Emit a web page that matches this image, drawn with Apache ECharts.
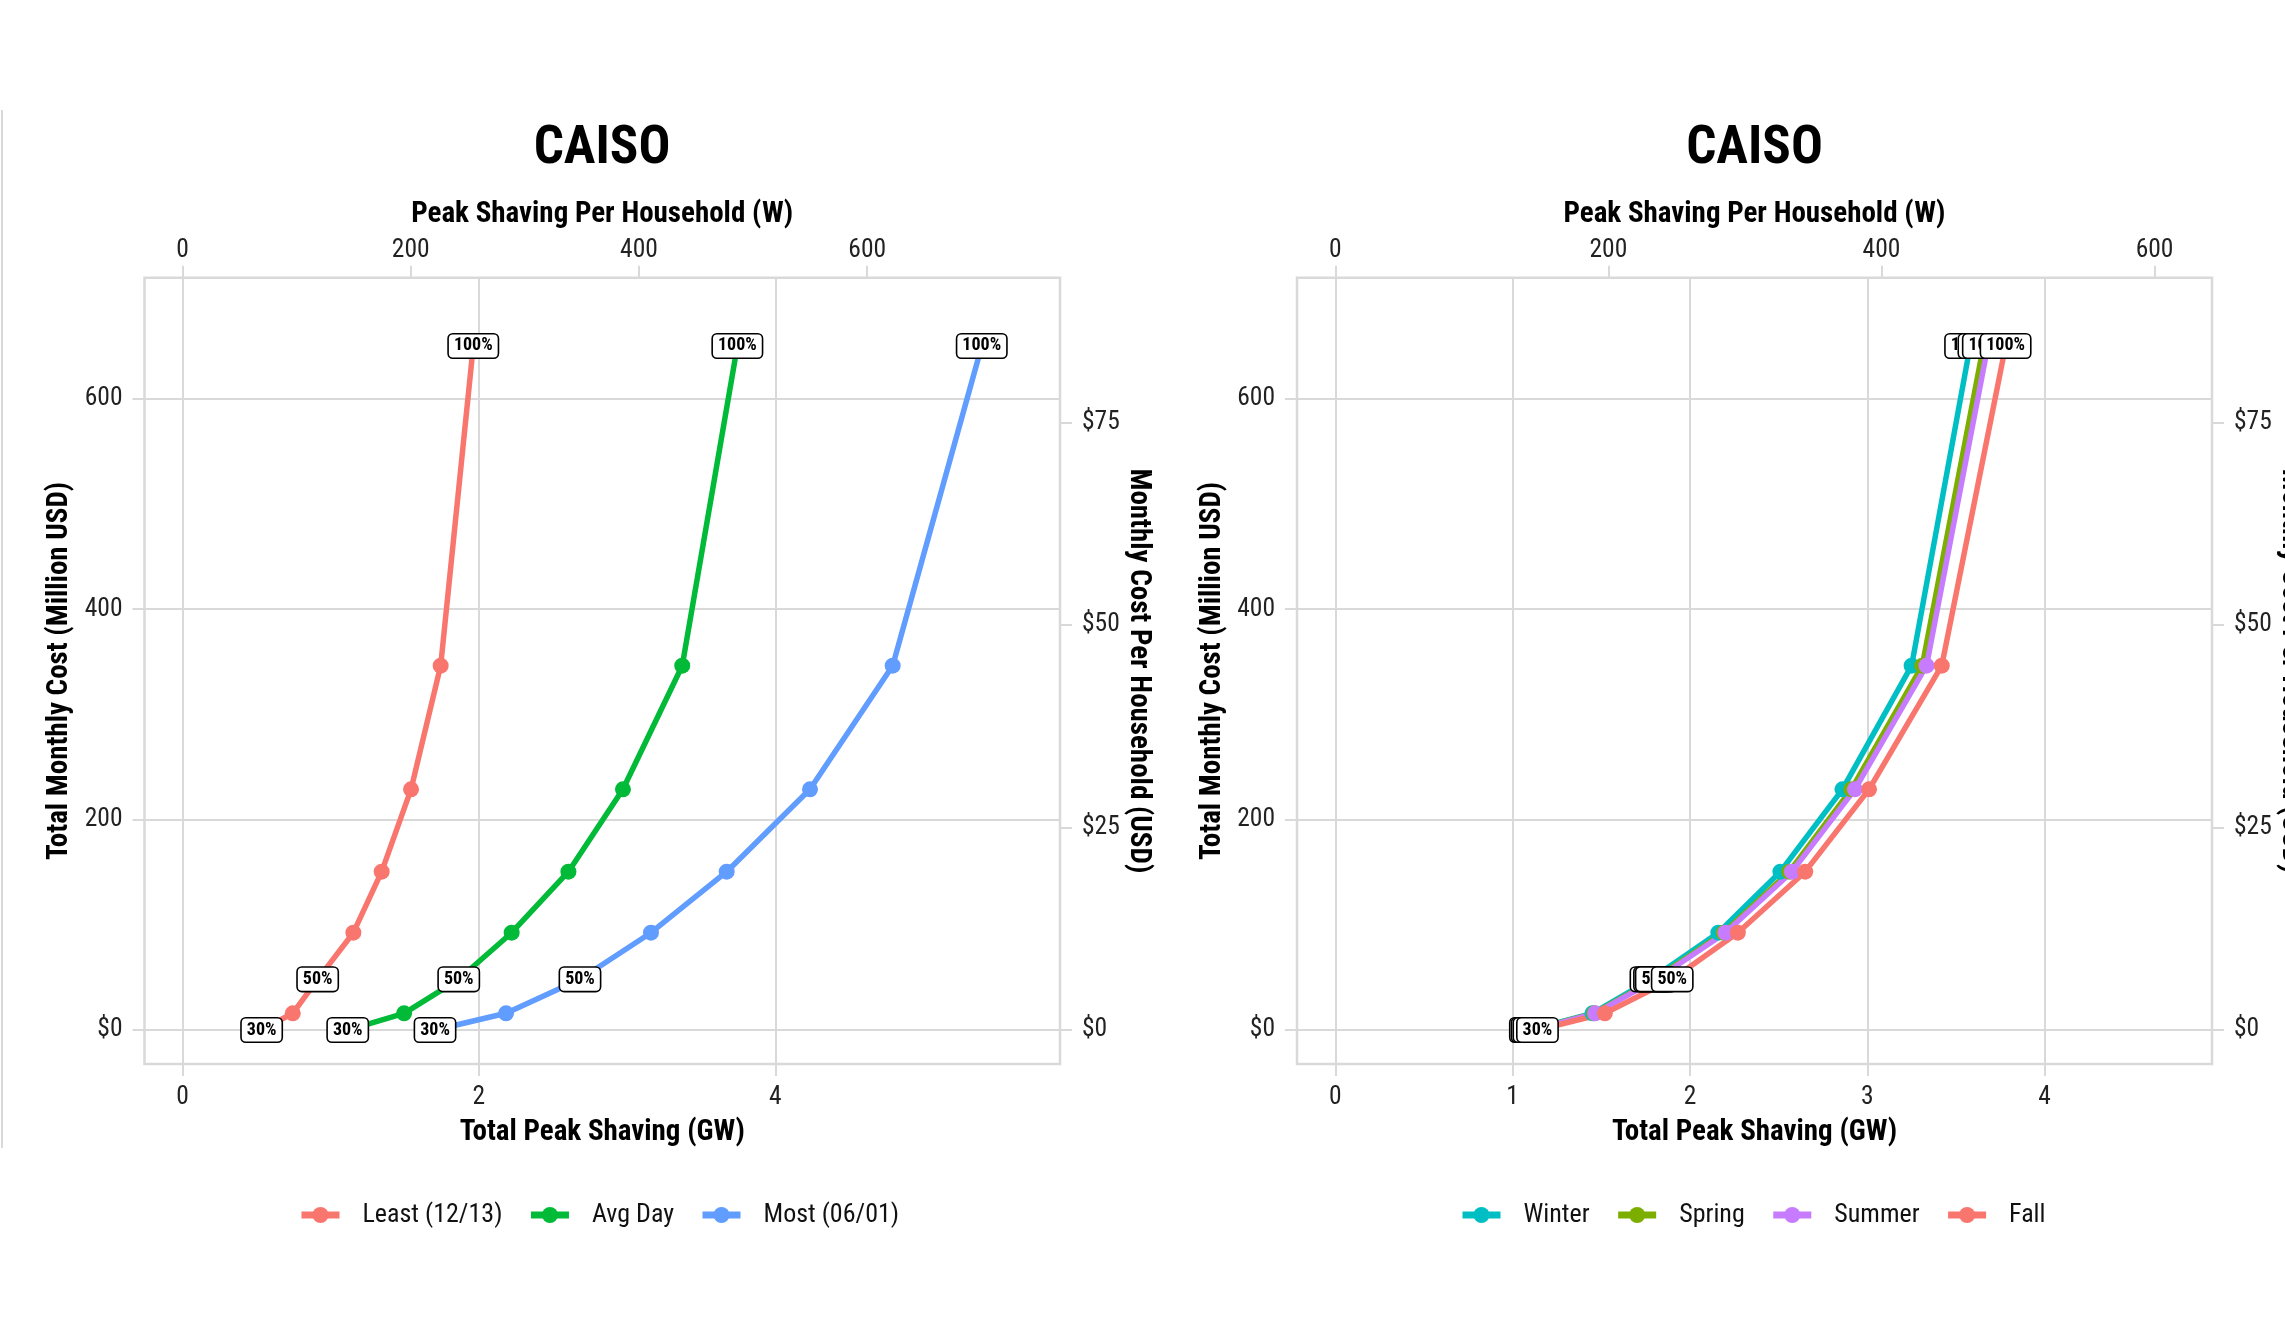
<!DOCTYPE html>
<html><head><meta charset="utf-8">
<script src="https://cdn.jsdelivr.net/npm/echarts@6/dist/echarts.min.js"></script>
<style>html,body{margin:0;padding:0;background:#fff}#c{width:2285px;height:1341px}</style>
</head><body><div id="c"></div><script>
// ---------------- data ----------------
const pctLevels = [30, 40, 50, 60, 70, 80, 90, 100];
const labelledPct = [30, 50, 100];
const totalCost = [0, 15.9, 48.2, 92.5, 150.5, 228.8, 346.3, 650.2]; // Million USD
const leastGW = [0.534, 0.744, 0.912, 1.153, 1.344, 1.542, 1.742, 1.962];
const avgGW   = [1.115, 1.495, 1.864, 2.221, 2.604, 2.972, 3.372, 3.744];
const mostGW  = [1.704, 2.183, 2.682, 3.161, 3.672, 4.234, 4.792, 5.393];
const winterGW = [1.10, 1.45, 1.78, 2.16, 2.51, 2.86, 3.25, 3.58];
const springGW = [1.11, 1.46, 1.80, 2.19, 2.56, 2.91, 3.31, 3.655];
const summerGW = [1.12, 1.465, 1.81, 2.20, 2.575, 2.93, 3.334, 3.68];
const fallGW   = [1.14, 1.52, 1.90, 2.27, 2.65, 3.01, 3.42, 3.78];
const householdsMillion = 7.7;
const leftNames = ['Least (12/13)', 'Avg Day', 'Most (06/01)'];
const rightNames = ['Winter', 'Spring', 'Summer', 'Fall'];
const gwTicksLeft = [0, 2, 4];
const gwTicksRight = [0, 1, 2, 3, 4];
const wTicks = [0, 200, 400, 600];
const costTicks = [0, 200, 400, 600];
const perHHTicks = [0, 25, 50, 75];

// ---------------- styling ----------------
const FONT = "'Roboto Condensed', 'Liberation Sans Narrow', 'DejaVu Sans Condensed', Roboto, sans-serif";
const GRID = '#D9D9D9';
const leftColors = ['#F8766D', '#00BA38', '#619CFF'];
const rightColors = ['#00BFC4', '#7CAE00', '#C77CFF', '#F8766D'];

const gwToW = v => v * 1000 / householdsMillion;
const costToHH = v => v / householdsMillion;

const leftX = [-0.2564, 5.921];
const rightX = [-0.216, 4.944];
const yRange = [-32.3, 715.1];

function makeData(gw) {
  return gw.map((x, i) => ({
    value: [x, totalCost[i]],
    label: labelledPct.includes(pctLevels[i])
      ? { show: true, formatter: pctLevels[i] + '%' }
      : { show: false }
  }));
}
function makeSeries(name, gw, color, axisIdx) {
  return {
    type: 'line', name, data: makeData(gw),
    xAxisIndex: axisIdx, yAxisIndex: axisIdx,
    color: color,
    symbol: 'circle', symbolSize: 16,
    lineStyle: { width: 5.5, color },
    itemStyle: { color },
    emphasis: { disabled: true },
    animation: false,
    label: {
      position: 'inside', color: '#000', fontFamily: FONT, fontSize: 18, fontWeight: 'bold',
      backgroundColor: '#fff', borderColor: '#000', borderWidth: 1.6, borderRadius: 4,
      padding: [3, 5, 2, 5], lineHeight: 18
    }
  };
}

const tickLabel = { fontFamily: FONT, fontSize: 25.5, color: '#222', lineHeight: 25 };
const nameStyle = { fontFamily: FONT, fontSize: 29, fontWeight: 'bold', color: '#000' };
const noLine = { show: false, onZero: false };

function bottomX(grid, range, ticks) {
  return {
    type: 'value', gridIndex: grid, position: 'bottom', min: range[0], max: range[1],
    name: 'Total Peak Shaving (GW)', nameLocation: 'middle', nameGap: 54, nameTextStyle: nameStyle,
    axisLine: noLine,
    axisTick: { show: true, length: 12, lineStyle: { color: GRID, width: 2 }, customValues: ticks },
    axisLabel: { ...tickLabel, margin: 21, customValues: ticks, formatter: v => String(v) },
    splitLine: { show: true, lineStyle: { color: GRID, width: 2 } }
  };
}
function topX(grid, range) {
  return {
    type: 'value', gridIndex: grid, position: 'top', min: gwToW(range[0]), max: gwToW(range[1]),
    name: 'Peak Shaving Per Household (W)', nameLocation: 'middle', nameGap: 48, nameTextStyle: nameStyle,
    axisLine: noLine,
    axisTick: { show: true, length: 12, lineStyle: { color: GRID, width: 2 }, customValues: wTicks },
    axisLabel: { ...tickLabel, margin: 15, customValues: wTicks, formatter: v => String(v) },
    splitLine: { show: false }
  };
}
function leftY(grid) {
  return {
    type: 'value', gridIndex: grid, position: 'left', min: yRange[0], max: yRange[1],
    name: 'Total Monthly Cost (Million USD)', nameLocation: 'middle', nameGap: 70, nameTextStyle: nameStyle,
    axisLine: noLine,
    axisTick: { show: true, length: 12, lineStyle: { color: GRID, width: 2 }, customValues: costTicks },
    axisLabel: { ...tickLabel, margin: 22, customValues: costTicks, formatter: v => v === 0 ? '$0' : String(v) },
    splitLine: { show: true, lineStyle: { color: GRID, width: 2 } }
  };
}
function rightY(grid) {
  return {
    type: 'value', gridIndex: grid, position: 'right', min: costToHH(yRange[0]), max: costToHH(yRange[1]),
    name: 'Monthly Cost Per Household (USD)', nameLocation: 'middle', nameGap: 64, nameRotate: -90, nameTextStyle: nameStyle,
    axisLine: noLine,
    axisTick: { show: true, length: 12, lineStyle: { color: GRID, width: 2 }, customValues: perHHTicks },
    axisLabel: { ...tickLabel, margin: 22, customValues: perHHTicks, formatter: v => '$' + v },
    splitLine: { show: false }
  };
}

const legendBase = {
  orient: 'horizontal', top: 1197, itemWidth: 38, itemHeight: 20, itemGap: 25,
  lineStyle: { width: 7 },
  textStyle: { fontFamily: FONT, fontSize: 26, color: '#111', padding: [0, 0, 0, 18] },
  selectedMode: false
};

const chart = echarts.init(document.getElementById('c'), null, { renderer: 'canvas' });
chart.setOption({
  backgroundColor: '#fff',
  animation: false,
  grid: [
    { left: 144.5, top: 277.7, width: 915.5, height: 786.3, show: true, borderColor: GRID, borderWidth: 2.5, backgroundColor: 'transparent', containLabel: false, outerBoundsMode: 'none' },
    { left: 1297, top: 277.7, width: 915, height: 786.3, show: true, borderColor: GRID, borderWidth: 2.5, backgroundColor: 'transparent', containLabel: false, outerBoundsMode: 'none' }
  ],
  xAxis: [bottomX(0, leftX, gwTicksLeft), topX(0, leftX), bottomX(1, rightX, gwTicksRight), topX(1, rightX)],
  yAxis: [leftY(0), rightY(0), leftY(1), rightY(1)],
  legend: [
    { ...legendBase, left: 293, data: leftNames },
    { ...legendBase, left: 1454, data: rightNames }
  ],
  series: [
    makeSeries(leftNames[0], leastGW, leftColors[0], 0),
    makeSeries(leftNames[1], avgGW, leftColors[1], 0),
    makeSeries(leftNames[2], mostGW, leftColors[2], 0),
    makeSeries(rightNames[0], winterGW, rightColors[0], 2),
    makeSeries(rightNames[1], springGW, rightColors[1], 2),
    makeSeries(rightNames[2], summerGW, rightColors[2], 2),
    makeSeries(rightNames[3], fallGW, rightColors[3], 2)
  ],
  graphic: [
    { type: 'line', shape: { x1: 2, y1: 110, x2: 2, y2: 1148 }, style: { stroke: GRID, lineWidth: 2 }, silent: true },
    { type: 'text', x: 602, y: 150, style: { text: 'CAISO', font: "bold 53px " + FONT, fill: '#000', textAlign: 'center', textVerticalAlign: 'middle' } },
    { type: 'text', x: 1754.5, y: 150, style: { text: 'CAISO', font: "bold 53px " + FONT, fill: '#000', textAlign: 'center', textVerticalAlign: 'middle' } }
  ]
});
</script></body></html>
